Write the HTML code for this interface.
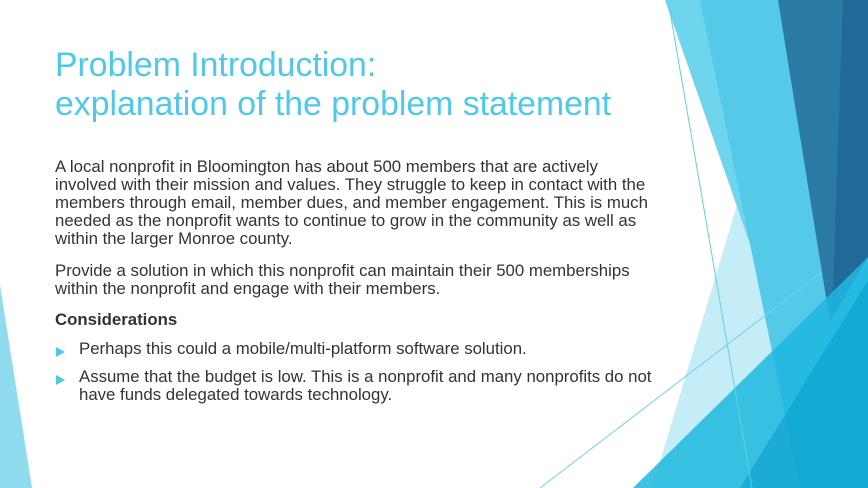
<!DOCTYPE html>
<html><head><meta charset="utf-8"><style>
html,body{margin:0;padding:0;}
body{width:868px;height:488px;position:relative;overflow:hidden;background:#fff;font-family:"Liberation Sans","DejaVu Sans",sans-serif;}
.t{position:absolute;left:55px;font-size:33.8px;color:#4ec9ea;white-space:nowrap;line-height:1;}
.b{position:absolute;left:55px;font-size:16.8px;color:#333;white-space:nowrap;line-height:1;}
.bul{position:absolute;left:56px;width:0;height:0;border-top:5px solid transparent;border-bottom:5px solid transparent;border-left:9px solid #4ec9ea;}
svg{position:absolute;left:0;top:0;}
</style></head><body>
<svg width="868" height="488">
<polygon points="0,285 0,488 32,488" fill="#8fdcf1"/>
<polygon points="740,195 652,488 800,488" fill="#c5edf8"/>
<polygon points="665,0 782,0 840,488 835,488" fill="#6fd4ee"/>
<polygon points="700,0 782,0 830,320 868,260 868,488 800,488" fill="#55c9e8"/>
<polygon points="778,0 868,0 868,258 830,322" fill="#2b7aa3"/>
<polygon points="843,0 868,0 868,258 832,318" fill="#216a98"/>
<polygon points="633,488 868,257 868,488" fill="#1fb7df" opacity="0.85"/>
<polygon points="740,488 868,280 868,488" fill="#0ea3d0" opacity="0.7"/>
<line x1="668" y1="0" x2="752" y2="488" stroke="#5fcfee" stroke-width="1"/>
<line x1="540" y1="488" x2="822" y2="272" stroke="#6dd3ee" stroke-width="1"/>
</svg>
<div class="t" style="top:49px">Problem Introduction:</div>
<div class="t" style="top:88px">explanation of the problem statement</div>
<div>
<div class="b" style="top:159px">A local nonprofit in Bloomington has about 500 members that are actively</div>
<div class="b" style="top:177px">involved with their mission and values. They struggle to keep in contact with the</div>
<div class="b" style="top:195px">members through email, member dues, and member engagement. This is much</div>
<div class="b" style="top:213px">needed as the nonprofit wants to continue to grow in the community as well as</div>
<div class="b" style="top:231px">within the larger Monroe county.</div>
</div>
<div>
<div class="b" style="top:263px">Provide a solution in which this nonprofit can maintain their 500 memberships</div>
<div class="b" style="top:281px">within the nonprofit and engage with their members.</div>
</div>
<div class="b" style="top:312px;font-weight:bold">Considerations</div>
<div class="bul" style="top:347px"></div>
<div class="b" style="top:341px;left:79px">Perhaps this could a mobile/multi-platform software solution.</div>
<div class="bul" style="top:375px"></div>
<div class="b" style="top:369px;left:79px">Assume that the budget is low. This is a nonprofit and many nonprofits do not</div>
<div class="b" style="top:387px;left:79px">have funds delegated towards technology.</div>
</body></html>
